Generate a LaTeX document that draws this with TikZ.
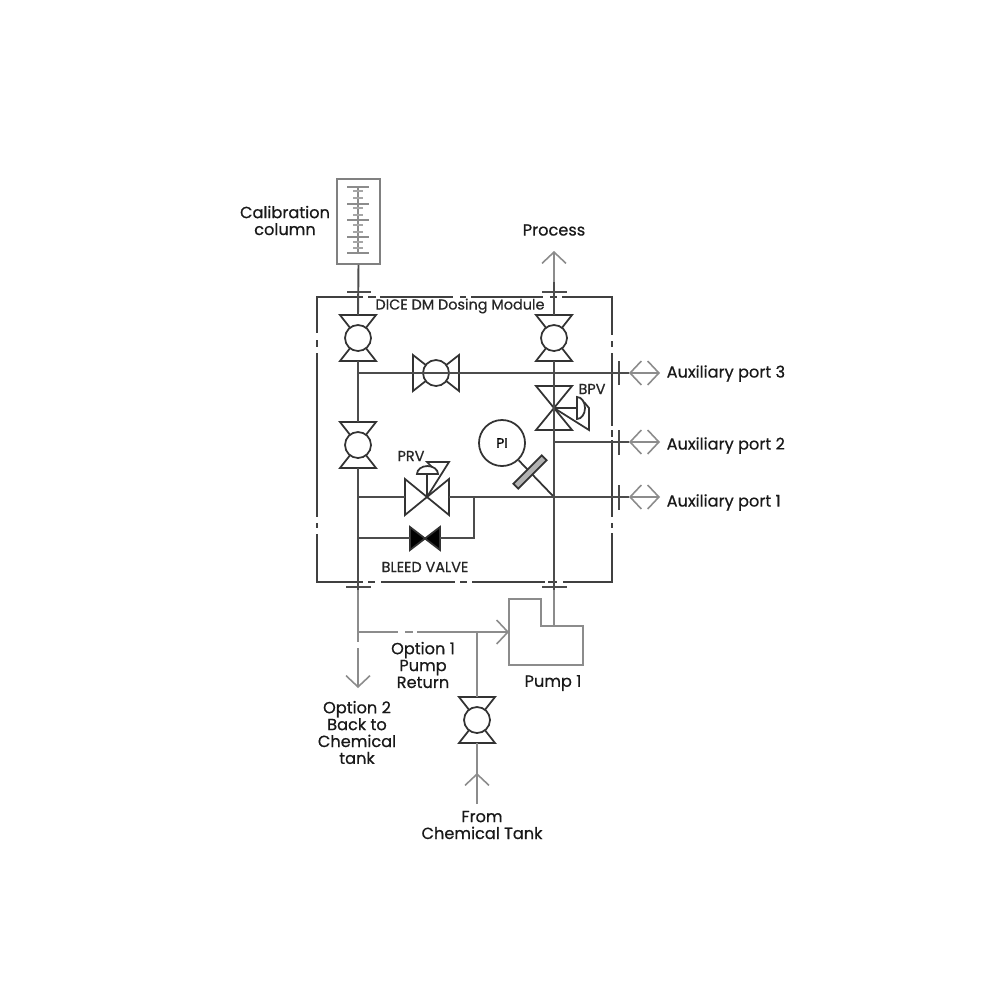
\documentclass[tikz,border=0pt]{standalone}
\usepackage{fontspec}
\setmainfont{Poppins}[BoldFont=Poppins,BoldFeatures={FakeBold=0.6}]
\usetikzlibrary{arrows.meta}
\definecolor{pipegray}{gray}{0.3}
\definecolor{lightpipe}{gray}{0.55}
\tikzset{
  pipe/.style={line width=0.55pt,draw=pipegray},
  thinpipe/.style={line width=0.45pt,draw=lightpipe},
  module/.style={line width=0.6pt,draw=black!75},
  flange/.style={line width=0.6pt,draw=black!70},
  valve/.style={line width=0.5pt,draw=black!80},
  barb/.style={thinpipe,-{Straight Barb[length=3.2pt,width=6.8pt,line width=0.45pt]}},
  barbs/.style={thinpipe,{Straight Barb[length=3.2pt,width=6.8pt,line width=0.45pt]}-{Straight Barb[length=3.2pt,width=6.8pt,line width=0.45pt]}},
  lbl/.style={font=\fontsize{4.6}{4.8}\bfseries\selectfont,text=black!90,align=center,inner sep=0pt},
  small/.style={font=\fontsize{4.1}{4.4}\bfseries\selectfont,text=black!85,inner sep=0pt},
  pics/ballvalve/.style={code={
    \draw[valve] (-18,-23) -- (18,-23) -- (-18,23) -- (18,23) -- cycle;
    \draw[valve,fill=white] (0,0) circle[radius=13];
    \coordinate (-a) at (0,-23);
    \coordinate (-b) at (0,23);
  }},
  pics/globevalve/.style={code={
    \draw[valve] (-22,-18) -- (22,18) -- (22,-18) -- (-22,18) -- cycle;
    \coordinate (-c) at (0,0);
    \coordinate (-a) at (-22,0);
    \coordinate (-b) at (22,0);
  }}
}
\begin{document}
\begin{tikzpicture}[x=0.01cm,y=-0.01cm]
  \useasboundingbox (0,0) rectangle (1000,1000);

  % Draw the calibration column
  \node[draw=black!50,line width=0.5pt,minimum width=0.43cm,minimum height=0.85cm,inner sep=0pt] (cal) at (358.5,221.5) {};
  \draw[thinpipe] (358,187) -- (358,253);
  \foreach \y in {187,204,220,237,253} {
    \draw[thinpipe] (347,\y) -- (369,\y);
  }
  \foreach \y in {191,198,208,215,225,232,242,248} {
    \draw[thinpipe,line width=0.6pt,draw=black!35] (353,\y) -- (363,\y);
  }

  % Draw the module border
  \draw[module] (363,297) -- (317,297) -- (317,333);
  \draw[module] (317,340) -- (317,347);
  \draw[module] (317,353) -- (317,517);
  \draw[module] (317,523) -- (317,528);
  \draw[module] (317,534) -- (317,582) -- (363,582);
  \draw[module] (368,297) -- (376,297);
  \draw[module] (380,297) -- (453,297);
  \draw[module] (460,297) -- (466,297);
  \draw[module] (471,297) -- (543,297);
  \draw[module] (550,297) -- (557,297);
  \draw[module] (562,297) -- (612,297) -- (612,335);
  \draw[module] (612,341) -- (612,347);
  \draw[module] (612,353) -- (612,426);
  \draw[module] (612,430) -- (612,437);
  \draw[module] (612,440) -- (612,517);
  \draw[module] (612,523) -- (612,528);
  \draw[module] (612,533) -- (612,582) -- (563,582);
  \draw[module] (368,582) -- (375,582);
  \draw[module] (381,582) -- (455,582);
  \draw[module] (460,582) -- (467,582);
  \draw[module] (472,582) -- (545,582);
  \draw[module] (548,582) -- (557,582);

  % Draw the valves
  \pic (vone) at (358,338) {ballvalve};
  \pic (vfour) at (358,445) {ballvalve};
  \pic (vthree) at (554,338) {ballvalve};
  \pic (vfeed) at (477,720) {ballvalve};
  \pic[rotate=-90] (vtwo) at (436,373) {ballvalve};
  \pic[rotate=90] (bpv) at (554,408) {globevalve};
  \pic (prv) at (427,497) {globevalve};

  % Draw the bleed valve
  \draw[valve,fill=black] (410,527) -- (440,550) -- (440,527) -- (410,550) -- cycle;
  \coordinate (bleedl) at (410,538);
  \coordinate (bleedr) at (440,538);

  % Draw the PRV and BPV actuators
  \draw[valve] (prv-c) -- (427,474);
  \draw[valve] (417,474) arc[start angle=180,end angle=360,x radius=10.5,y radius=8] -- cycle;
  \draw[valve] (prv-c) -- (449,462) -- (427,462) -- (432,467);
  \draw[valve] (bpv-c) -- (577,408);
  \draw[valve] (577,397) arc[start angle=-90,end angle=90,x radius=8,y radius=11] -- cycle;
  \draw[valve] (bpv-c) -- (589,430) -- (589,408) -- (584,402);

  % Draw the pressure gauge
  \node[circle,draw=black!80,line width=0.5pt,minimum size=0.46cm,inner sep=0pt,font=\fontsize{3.9}{4}\bfseries\selectfont] (pi) at (502,443) {PI};
  \coordinate (jpi) at (554,497);
  \draw[valve] (pi) -- (jpi);
  \draw[valve,fill=black!30,rotate around={45:(530,472)}] (510,468.5) rectangle (550,475.5);

  % Draw the pump
  \draw[thinpipe,line width=0.55pt] (509,599) -- (541,599) -- (541,626) -- (583,626) -- (583,665) -- (509,665) -- cycle;
  \coordinate (pumpin) at (509,632);
  \coordinate (pumpout) at (554,626);

  % Draw the left and right pipes
  \coordinate (jtop) at (358,373);
  \coordinate (jbottom) at (358,632);
  \coordinate (jprv) at (358,497);
  \coordinate (jbleed) at (358,538);
  \coordinate (jtie) at (474,497);
  \coordinate (jfeed) at (477,632);
  \coordinate (jmid) at (554,373);
  \coordinate (jaux) at (554,442);
  \draw[pipe] (cal.south) -- (vone-a);
  \draw[pipe] (vone-b) -- (vfour-a);
  \draw[pipe] (vfour-b) -- (358,590);
  \draw[thinpipe] (358,590) -- (jbottom);
  \draw[thinpipe] (jbottom) -- (358,642);
  \draw[thinpipe] (358,648) -- (358,656);
  \draw[pipe] (jtop) -- (vtwo-a);
  \draw[pipe] (vtwo-b) -- (jmid);
  \draw[pipe] (vthree-b) -- (bpv-a);
  \draw[pipe] (bpv-b) -- (jaux) -- (jpi) -- (554,590);
  \draw[thinpipe] (554,590) -- (pumpout);

  % Draw the PRV and bleed lines
  \draw[pipe] (jprv) -- (prv-a);
  \draw[pipe] (prv-b) -- (jtie) -- (jpi);
  \draw[pipe] (jbleed) -- (bleedl);
  \draw[pipe] (bleedr) -- (474,538) -- (jtie);

  % Draw the flanges
  \draw[flange] (347,292) -- (371,292);
  \draw[flange] (542,292) -- (567,292);
  \draw[flange] (346,587) -- (371,587);
  \draw[flange] (542,587) -- (567,587);
  \draw[flange] (619,361) -- (619,385);
  \draw[flange] (619,430) -- (619,455);
  \draw[flange] (619,485) -- (619,510);

  % Draw the auxiliary ports
  \coordinate (portthreea) at (629,373);
  \coordinate (portthreeb) at (660,373);
  \coordinate (porttwoa) at (629,442);
  \coordinate (porttwob) at (660,442);
  \coordinate (portonea) at (629,497);
  \coordinate (portoneb) at (660,497);
  \draw[pipe] (jmid) -- (portthreea);
  \draw[pipe] (jaux) -- (porttwoa);
  \draw[pipe] (jpi) -- (portonea);
  \draw[barbs] (portthreea) -- (portthreeb);
  \draw[barbs] (porttwoa) -- (porttwob);
  \draw[barbs] (portonea) -- (portoneb);

  % Draw the process line and the return lines
  \coordinate (process) at (554,251);
  \draw[pipe] (vthree-a) -- (554,282);
  \draw[barb] (554,282) -- (process);
  \coordinate (backtank) at (358,688);
  \draw[barb] (358,656) -- (backtank);
  \draw[thinpipe] (jbottom) -- (398,632);
  \draw[thinpipe] (405,632) -- (413,632);
  \draw[barb] (417,632) -- (pumpin);
  \draw[thinpipe] (jfeed) -- (vfeed-a);
  \coordinate (feedin) at (477,804);
  \coordinate (feedtip) at (477,773);
  \draw[thinpipe] (vfeed-b) -- (feedin);
  \draw[barb] (feedin) -- (feedtip);

  % Label the parts
  \node[lbl] (lcal) at (285,220.5) {Calibration\\column};
  \node[lbl] (lproc) at (554,230) {Process};
  \node[small] (lmod) at (460,306) {DICE DM Dosing Module};
  \node[small] (lprv) at (411,456) {PRV};
  \node[small] (lbpv) at (592,389) {BPV};
  \node[small] (lbleed) at (425,567) {BLEED VALVE};
  \node[lbl,anchor=west] (lthree) at (666,373.5) {Auxiliary port 3};
  \node[lbl,anchor=west] (ltwo) at (666,445.5) {Auxiliary port 2};
  \node[lbl,anchor=west] (lone) at (666,502.5) {Auxiliary port 1};
  \node[lbl] (lopta) at (423,665) {Option 1\\Pump\\Return};
  \node[lbl] (lpump) at (553,683) {Pump 1};
  \node[lbl] (loptb) at (357,732.5) {Option 2\\Back to\\Chemical\\tank};
  \node[lbl] (lfrom) at (482,825) {From\\Chemical Tank};
\end{tikzpicture}
\end{document}
